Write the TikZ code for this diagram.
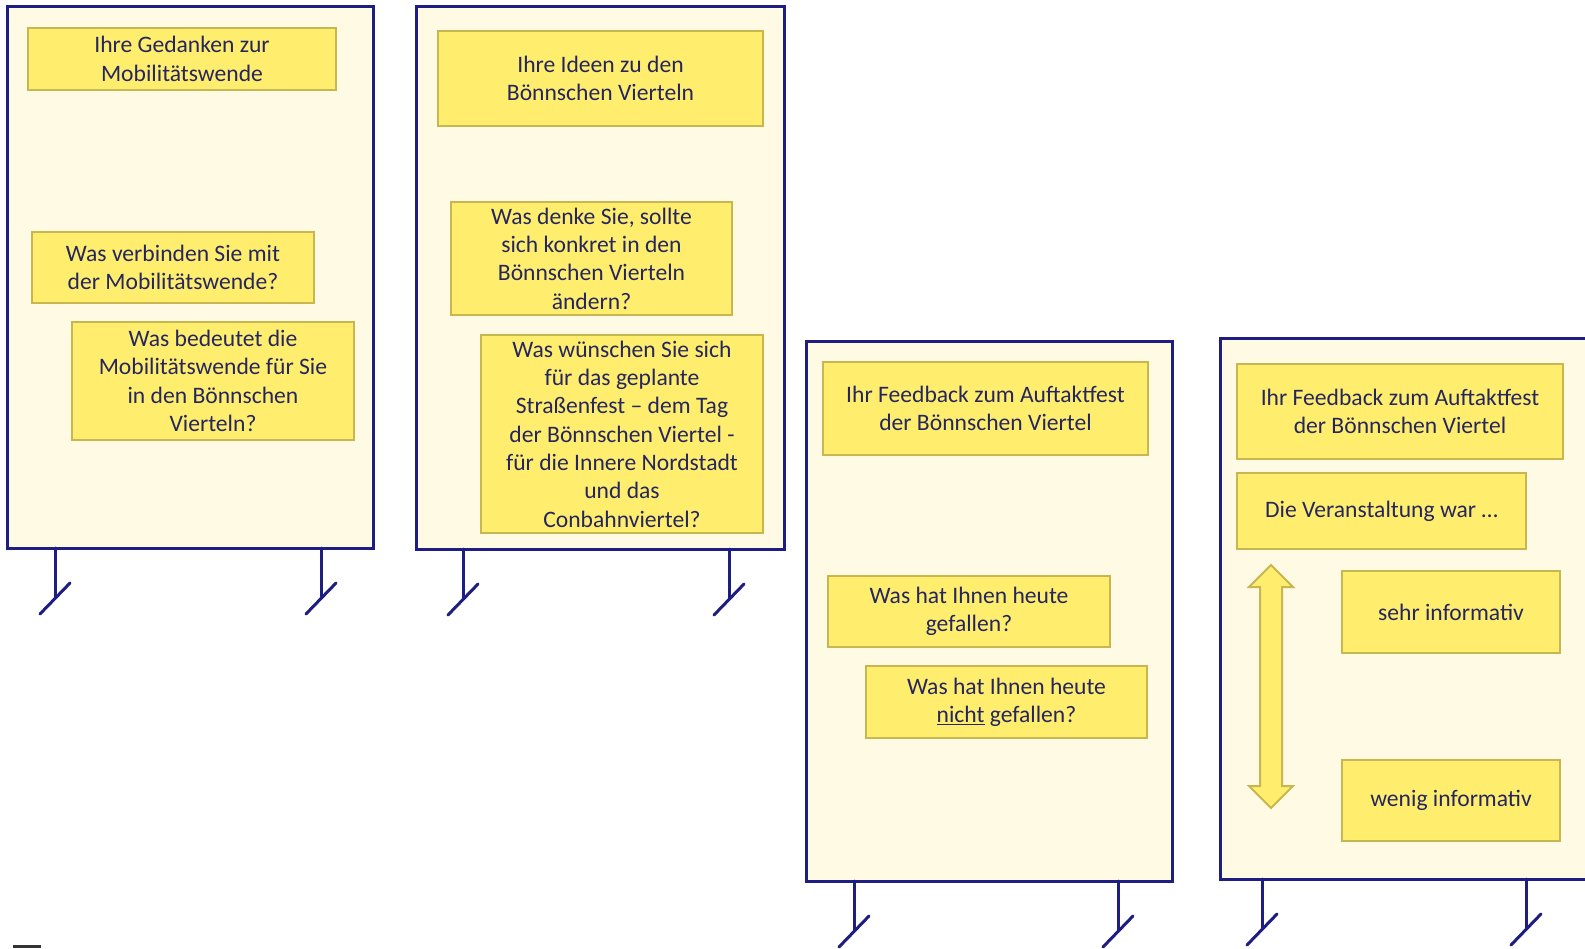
\documentclass[tikz,border=0pt]{standalone}
\usepackage{fontspec}
\setmainfont{Carlito}
\definecolor{boardline}{RGB}{30,30,130}
\definecolor{boardfill}{RGB}{255,250,228}
\definecolor{cardfill}{RGB}{255,238,110}
\definecolor{cardline}{RGB}{200,182,80}
\definecolor{txt}{RGB}{38,38,95}
\begin{document}
\begin{tikzpicture}[x=1pt,y=-1pt,
  board/.style={draw=boardline, fill=boardfill, line width=3pt},
  leg/.style={draw=boardline, line width=3pt, line cap=round},
  card/.style={draw=cardline, fill=cardfill, line width=2pt, inner sep=0pt, align=center, text=txt, font=\fontsize{23.6}{28.3}\selectfont},
  arrowshape/.style={draw=cardline, fill=cardfill, line width=2pt, line join=miter}]
\useasboundingbox (0,0) rectangle (1585,948);

% boards
\draw[board] (7,6) rectangle (373,548);
\draw[board] (416,6) rectangle (784,549);
\draw[board] (806,341) rectangle (1172,881);
\draw[board] (1220,338) rectangle (1600,879);

% legs
\foreach \x/\yb in {55/548, 321/548, 463/549, 729/549, 854/881, 1118/881, 1262/879, 1526/879}{
  \coordinate (top) at (\x,\yb);
  \coordinate (foot) at (\x,\yb+49);
  \coordinate (dl) at (\x-15,\yb+66);
  \coordinate (dr) at (\x+15,\yb+35);
  \draw[leg] (top) -- (foot);
  \draw[leg] (dl) -- (dr);
}

% cards board 1
\node[card, minimum width=308pt, minimum height=62pt] (c1) at (182,59) {Ihre Gedanken zur\\Mobilitätswende};
\node[card, minimum width=282pt, minimum height=71pt] (c2) at (173,267.5) {Was verbinden Sie mit\\der Mobilitätswende?};
\node[card, minimum width=282pt, minimum height=118pt] (c3) at (213,381) {Was bedeutet die\\Mobilitätswende für Sie\\in den Bönnschen\\Vierteln?};

% cards board 2
\node[card, minimum width=325pt, minimum height=95pt] (c4) at (600.5,78.5) {Ihre Ideen zu den\\Bönnschen Vierteln};
\node[card, minimum width=281pt, minimum height=113pt] (c5) at (591.5,258.5) {Was denke Sie, sollte\\sich konkret in den\\Bönnschen Vierteln\\ändern?};
\node[card, minimum width=282pt, minimum height=198pt] (c6) at (622,434) {Was wünschen Sie sich\\für das geplante\\Straßenfest – dem Tag\\der Bönnschen Viertel -\\für die Innere Nordstadt\\und das\\Conbahnviertel?};

% cards board 3
\node[card, minimum width=325pt, minimum height=93pt] (c7) at (985.5,408.5) {Ihr Feedback zum Auftaktfest\\der Bönnschen Viertel};
\node[card, minimum width=282pt, minimum height=71pt] (c8) at (969,611.5) {Was hat Ihnen heute\\gefallen?};
\node[card, minimum width=281pt, minimum height=72pt] (c9) at (1006.5,702) {Was hat Ihnen heute\\\underline{nicht} gefallen?};

% cards board 4
\node[card, minimum width=326pt, minimum height=95pt] (c10) at (1400,411.5) {Ihr Feedback zum Auftaktfest\\der Bönnschen Viertel};
\node[card, minimum width=289pt, minimum height=76pt] (c11) at (1381.5,511) {Die Veranstaltung war …};
\node[card, minimum width=218pt, minimum height=82pt] (c12) at (1451,612) {sehr informativ};
\node[card, minimum width=218pt, minimum height=81pt] (c13) at (1451,800.5) {wenig informativ};

% double arrow
\draw[arrowshape] (1271,565) -- (1293,587) -- (1282,587) -- (1282,786) -- (1293,786) -- (1271,808)
  -- (1249,786) -- (1260,786) -- (1260,587) -- (1249,587) -- cycle;

% small mark bottom left
\fill[black!80] (13,945) rectangle (41,948);
\end{tikzpicture}
\end{document}
